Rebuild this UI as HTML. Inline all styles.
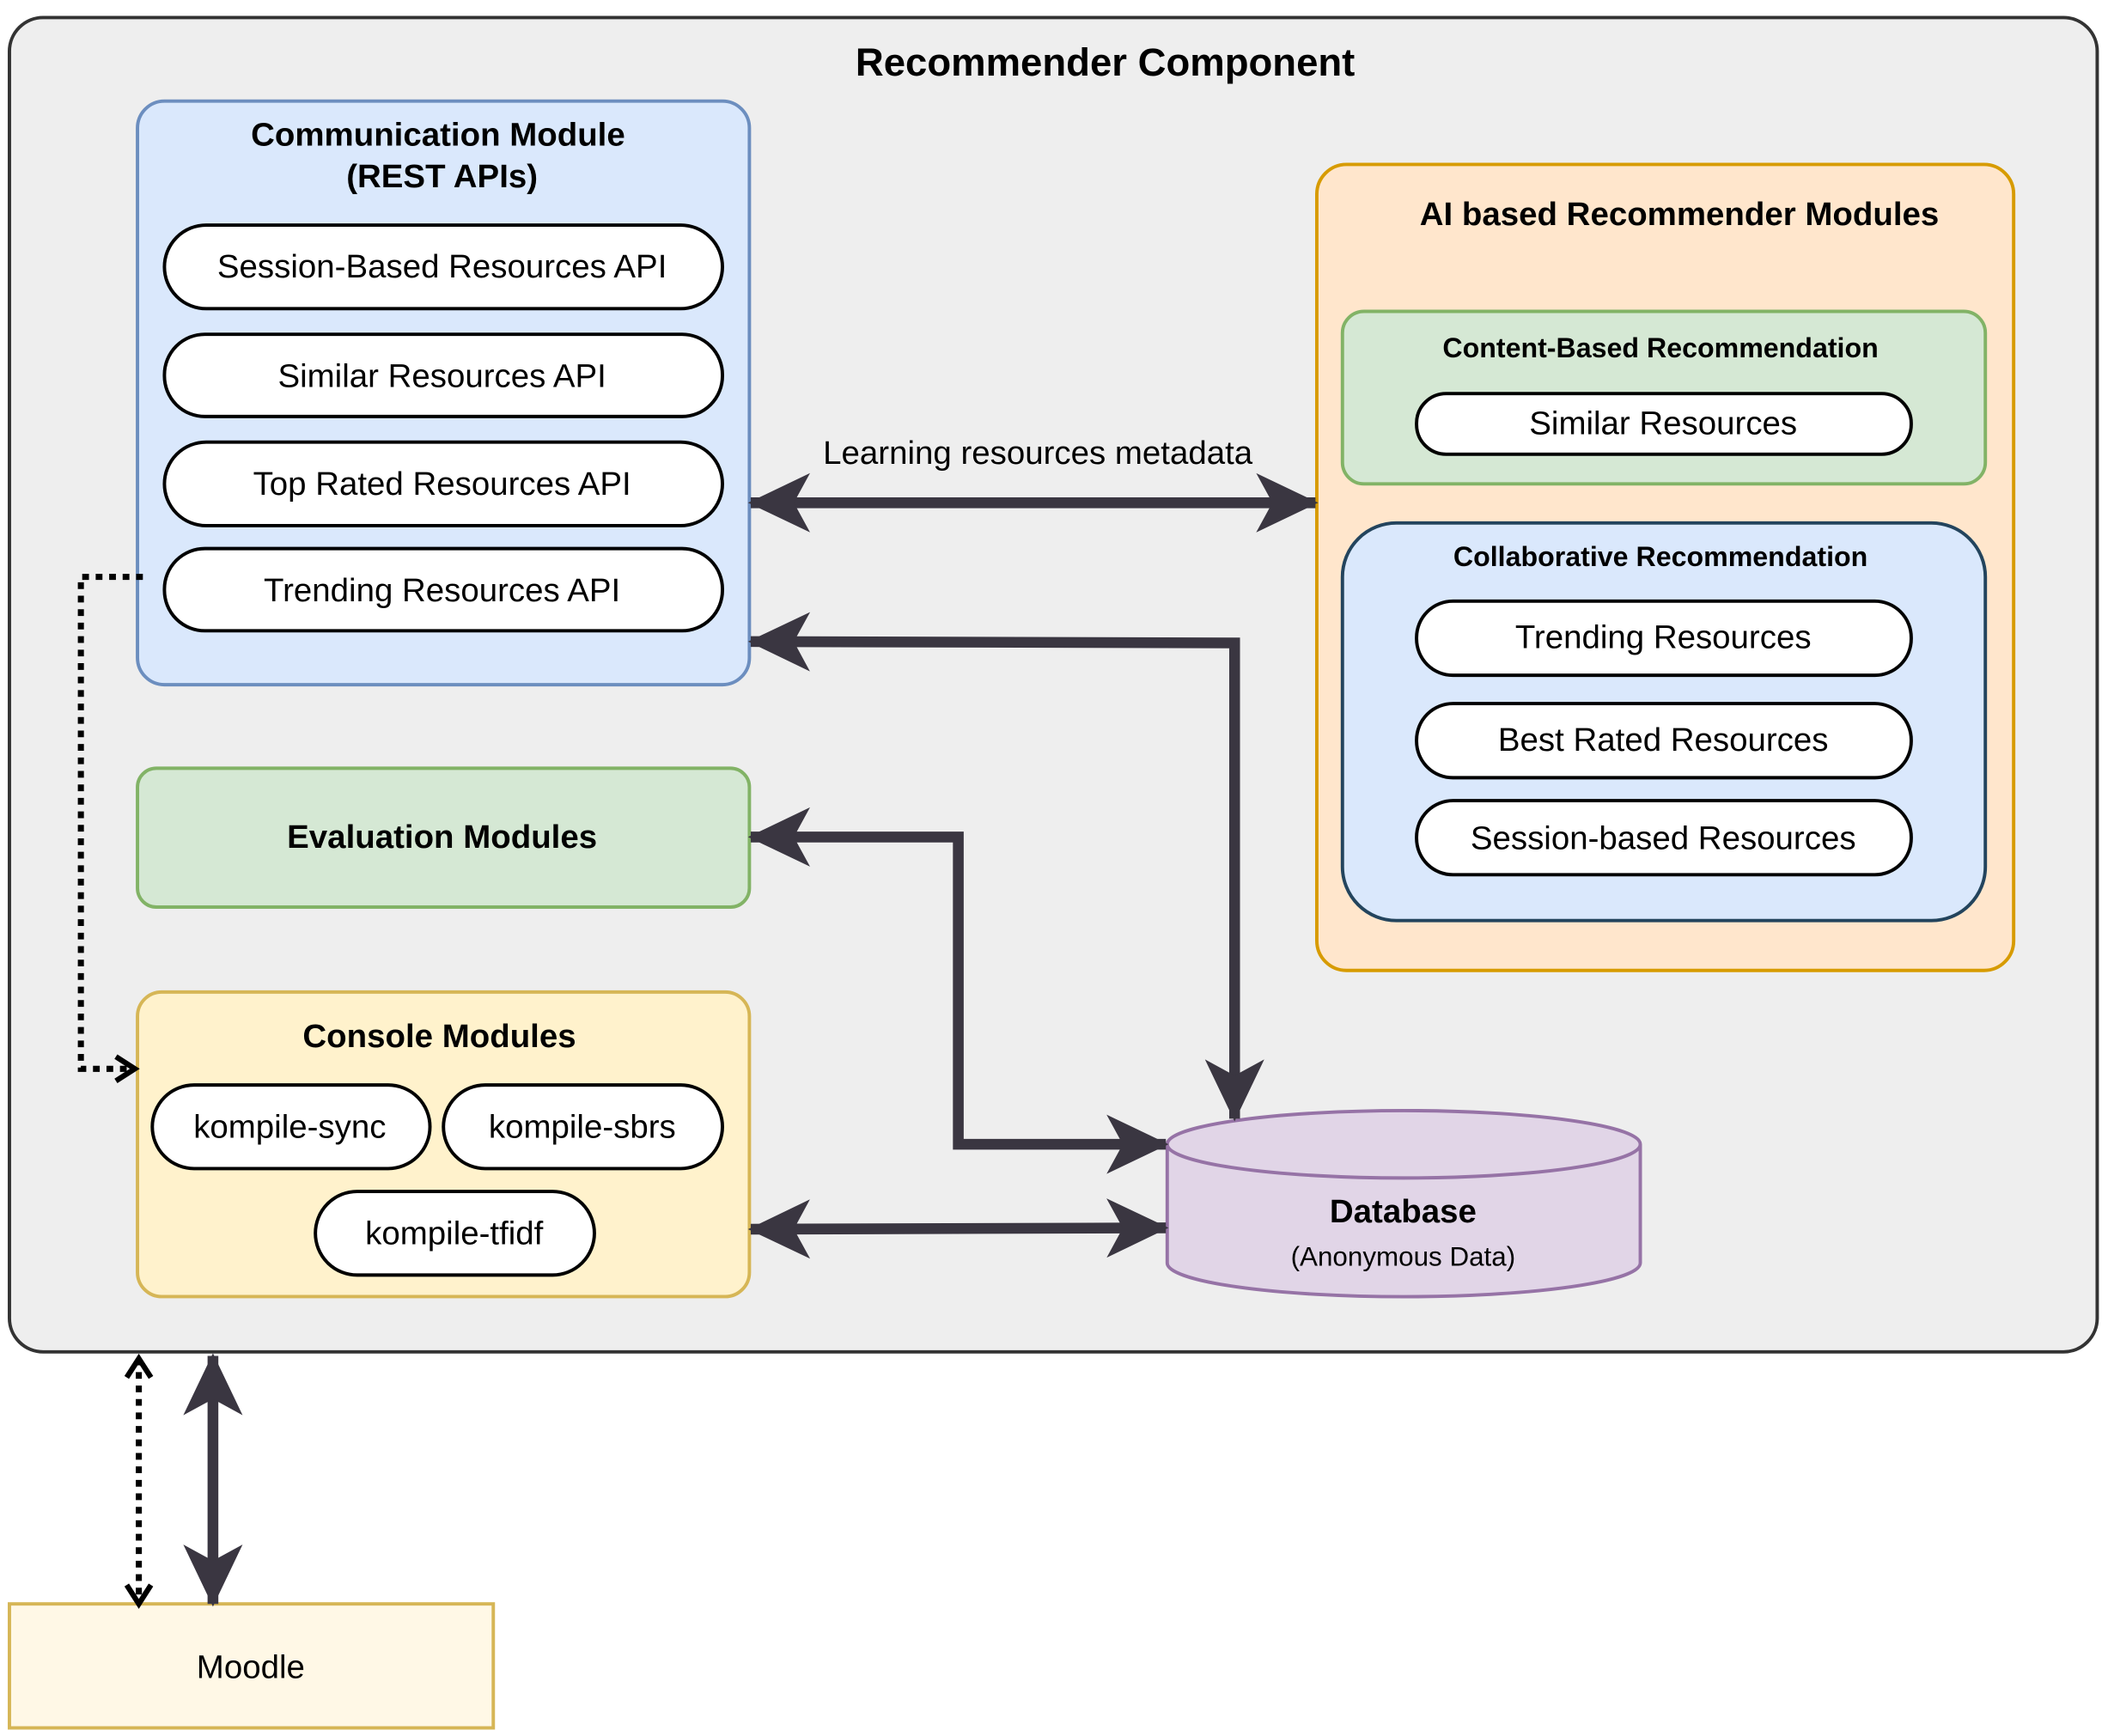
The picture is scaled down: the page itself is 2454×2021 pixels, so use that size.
<!DOCTYPE html>
<html><head><meta charset="utf-8"><style>html,body{margin:0;padding:0;background:#fff}svg{display:block}text{font-family:"Liberation Sans",Arial,sans-serif;fill:#000}</style></head>
<body>
<svg width="2454" height="2021" viewBox="0 0 1564 1288" xmlns="http://www.w3.org/2000/svg">
<defs>
<marker id="ah" markerUnits="userSpaceOnUse" markerWidth="48" markerHeight="48" viewBox="0 0 48 48" refX="44" refY="24" orient="auto-start-reverse">
<path d="M0,2 L46,24 L0,46 L12,24 z" fill="#3a3641"/>
</marker>
<marker id="ad" markerUnits="userSpaceOnUse" markerWidth="20" markerHeight="24" viewBox="0 0 20 24" refX="16" refY="12" orient="auto-start-reverse">
<path d="M2,3 L16,12 L2,21" fill="none" stroke="#000" stroke-width="4"/>
</marker>
</defs>
<rect x="7" y="13" width="1549" height="990" rx="25" fill="#eeeeee" stroke="#333" stroke-width="2.5"/>
<text x="820" y="56" font-size="29" font-weight="bold" text-anchor="middle">Recommender Component</text>

<rect x="102" y="75" width="454" height="433" rx="20" fill="#dae8fc" stroke="#6c8ebf" stroke-width="2.5"/>
<text x="325" y="108" font-size="24.5" font-weight="bold" text-anchor="middle">Communication Module</text>
<text x="328" y="139" font-size="24.5" font-weight="bold" text-anchor="middle">(REST APIs)</text>
<g fill="#fff" stroke="#000" stroke-width="2.5">
<rect x="122" y="167" width="414" height="62" rx="31"/>
<rect x="122" y="248" width="414" height="61" rx="30"/>
<rect x="122" y="328" width="414" height="62" rx="31"/>
<rect x="122" y="407" width="414" height="61" rx="30"/>
</g>
<g font-size="24.5" text-anchor="middle">
<text x="328" y="206">Session-Based Resources API</text>
<text x="328" y="287">Similar Resources API</text>
<text x="328" y="367">Top Rated Resources API</text>
<text x="328" y="446">Trending Resources API</text>
</g>

<rect x="102" y="570" width="454" height="103" rx="14" fill="#d5e8d4" stroke="#82b366" stroke-width="2.5"/>
<text x="328" y="629" font-size="24.5" font-weight="bold" text-anchor="middle">Evaluation Modules</text>

<rect x="102" y="736" width="454" height="226" rx="18" fill="#fff2cc" stroke="#d6b656" stroke-width="2.5"/>
<text x="326" y="777" font-size="24.5" font-weight="bold" text-anchor="middle">Console Modules</text>
<g fill="#fff" stroke="#000" stroke-width="2.5">
<rect x="113" y="805" width="206" height="62" rx="31"/>
<rect x="329" y="805" width="207" height="62" rx="31"/>
<rect x="234" y="884" width="207" height="62" rx="31"/>
</g>
<g font-size="24.5" text-anchor="middle">
<text x="215" y="844">kompile-sync</text>
<text x="432" y="844">kompile-sbrs</text>
<text x="337" y="923">kompile-tfidf</text>
</g>

<rect x="977" y="122" width="517" height="598" rx="22" fill="#ffe6cc" stroke="#d79b00" stroke-width="2.5"/>
<text x="1246" y="167" font-size="24.5" font-weight="bold" text-anchor="middle">AI based Recommender Modules</text>
<rect x="996" y="231" width="477" height="128" rx="16" fill="#d5e8d4" stroke="#82b366" stroke-width="2.5"/>
<text x="1232" y="265" font-size="20.5" font-weight="bold" text-anchor="middle">Content-Based Recommendation</text>
<rect x="1051" y="292" width="367" height="45" rx="22" fill="#fff" stroke="#000" stroke-width="2.5"/>
<text x="1234" y="322" font-size="24.5" text-anchor="middle">Similar Resources</text>
<rect x="996" y="388" width="477" height="295" rx="40" fill="#dae8fc" stroke="#23445d" stroke-width="2.5"/>
<text x="1232" y="420" font-size="20.5" font-weight="bold" text-anchor="middle">Collaborative Recommendation</text>
<g fill="#fff" stroke="#000" stroke-width="2.5">
<rect x="1051" y="446" width="367" height="55" rx="27"/>
<rect x="1051" y="522" width="367" height="55" rx="27"/>
<rect x="1051" y="594" width="367" height="55" rx="27"/>
</g>
<g font-size="24.5" text-anchor="middle">
<text x="1234" y="481">Trending Resources</text>
<text x="1234" y="557">Best Rated Resources</text>
<text x="1234" y="630">Session-based Resources</text>
</g>

<path d="M866,849 L866,937 A175,25 0 0 0 1217,937 L1217,849" fill="#e1d5e7" stroke="#9673a6" stroke-width="2.5"/>
<ellipse cx="1041.5" cy="849" rx="175.5" ry="25" fill="#e1d5e7" stroke="#9673a6" stroke-width="2.5"/>
<text x="1041" y="907" font-size="24.5" font-weight="bold" text-anchor="middle">Database</text>
<text x="1041" y="939" font-size="20" text-anchor="middle">(Anonymous Data)</text>

<rect x="7" y="1190" width="359" height="92" fill="#fff8e6" stroke="#d6b656" stroke-width="2.5"/>
<text x="186" y="1245" font-size="24.5" text-anchor="middle">Moodle</text>

<g fill="none" stroke="#3a3641" stroke-width="8" marker-start="url(#ah)" marker-end="url(#ah)">
<path d="M557,373 L976,373"/>
<path d="M557,476 L916,477 L916,830"/>
<path d="M557,621 L711,621 L711,849 L865,849"/>
<path d="M557,912 L865,911"/>
<path d="M158,1006 L158,1190"/>
</g>
<text x="770" y="344" font-size="24.5" text-anchor="middle">Learning resources metadata</text>
<g fill="none" stroke="#000" stroke-width="4.5" stroke-dasharray="5,5">
<path d="M106,428 L60,428 L60,793 L100,793" marker-end="url(#ad)"/>
<path d="M103,1008 L103,1190" marker-start="url(#ad)" marker-end="url(#ad)"/>
</g>
</svg>
</body></html>
